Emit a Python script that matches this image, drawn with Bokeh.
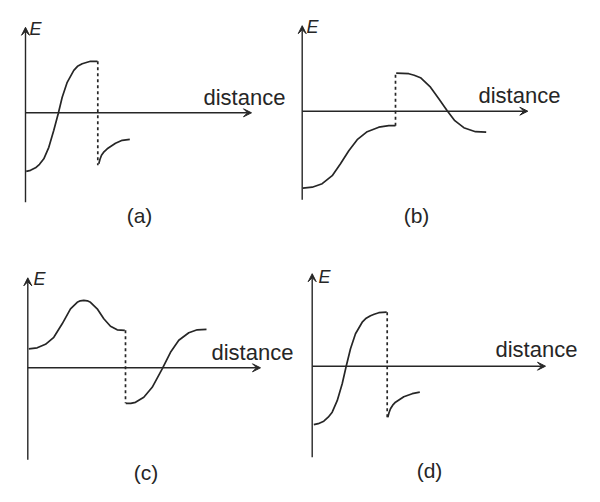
from bokeh.plotting import figure
from bokeh.models import Range1d, Arrow, VeeHead, Label
from bokeh.layouts import column, row
from bokeh.embed import file_html
from bokeh.resources import INLINE

# ---------------- data (distance, E) ----------------
panel_names = ["(a)", "(b)", "(c)", "(d)"]
x_label = "distance"
y_label = "E"

a_dist1 = [0.07, 0.5, 1.0, 1.4, 1.83, 2.33, 2.83, 3.27, 3.67, 4.17, 4.83, 5.2, 5.67, 6.0, 6.5, 7.2]
a_E1 = [-1.17, -1.15, -1.10, -1.03, -0.92, -0.69, -0.35, -0.02, 0.31, 0.61, 0.85, 0.93, 0.98, 1.0, 1.03, 1.03]
a_jump = [7.23, 1.03, -1.05]
a_dist2 = [7.33, 7.45, 7.6, 7.85, 8.17, 9.0, 9.67, 10.43]
a_E2 = [-1.02, -0.93, -0.85, -0.78, -0.72, -0.61, -0.55, -0.53]

b_dist1 = [0.06, 1.0, 2.0, 3.0, 3.83, 4.66, 5.5, 6.5, 7.66, 8.66, 9.33]
b_E1 = [-1.54, -1.52, -1.45, -1.29, -1.05, -0.79, -0.57, -0.41, -0.32, -0.29, -0.29]
b_jump = [9.33, -0.29, 0.76]
b_dist2 = [9.4, 10.66, 11.2, 11.83, 12.83, 13.66, 14.5, 15.26, 16.16, 17.33, 18.4]
b_E2 = [0.76, 0.75, 0.72, 0.67, 0.48, 0.25, 0.01, -0.19, -0.33, -0.41, -0.42]

c_dist1 = [0.1, 0.94, 1.77, 2.6, 3.44, 4.27, 4.94, 5.25, 5.6, 5.95, 6.27, 6.94, 7.6, 8.27, 8.94, 9.7]
c_E1 = [0.38, 0.40, 0.47, 0.61, 0.88, 1.18, 1.31, 1.34, 1.35, 1.34, 1.31, 1.18, 0.98, 0.83, 0.76, 0.75]
c_jump = [9.77, 0.75, -0.71]
c_dist2 = [9.8, 10.3, 10.77, 11.6, 12.44, 13.44, 14.27, 15.1, 16.1, 16.94, 17.87]
c_E2 = [-0.71, -0.71, -0.69, -0.59, -0.39, -0.02, 0.31, 0.55, 0.70, 0.76, 0.77]

d_dist1 = [0.16, 0.6, 1.16, 1.6, 2.0, 2.5, 3.0, 3.4, 3.83, 4.33, 5.0, 5.4, 5.83, 6.2, 6.66, 7.45]
d_E1 = [-1.17, -1.15, -1.10, -1.02, -0.92, -0.69, -0.35, 0.0, 0.35, 0.65, 0.88, 0.96, 1.01, 1.04, 1.07, 1.08]
d_jump = [7.5, 1.08, -1.05]
d_dist2 = [7.56, 7.68, 7.83, 8.05, 8.33, 9.16, 10.0, 10.76]
d_E2 = [-1.02, -0.93, -0.85, -0.78, -0.72, -0.61, -0.55, -0.52]

# axis extents: (E bottom, E top, distance end)
a_axes = [-1.79, 1.71, 22.6]
b_axes = [-1.77, 1.71, 22.56]
c_axes = [-1.84, 1.80, 23.27]
d_axes = [-1.82, 1.85, 23.33]

# ---------------- layout / style ----------------
PX_PER_D = 10.0   # pixels per distance unit
PX_PER_E = 50.0   # pixels per E unit
INK = "#262626"
FONT = "Liberation Sans"


def make_panel(W, H, ox, oy, d1, e1, jump, d2, e2, axes, name,
               e_pos, dist_pos, name_pos):
    p = figure(width=W, height=H, output_backend="svg", toolbar_location=None,
               x_axis_location=None, y_axis_location=None, title=None,
               min_border=0, outline_line_color=None,
               background_fill_color="white", border_fill_color="white",
               x_range=Range1d(-ox / PX_PER_D, (W - ox) / PX_PER_D),
               y_range=Range1d(-(H - oy) / PX_PER_E, oy / PX_PER_E))
    p.grid.visible = False

    # axes drawn as arrows
    p.add_layout(Arrow(x_start=0, y_start=axes[0], x_end=0, y_end=axes[1],
                       line_color=INK, line_width=1.4,
                       end=VeeHead(size=8, line_color=INK, fill_color=INK, line_width=1)))
    p.add_layout(Arrow(x_start=0, y_start=0, x_end=axes[2], y_end=0,
                       line_color=INK, line_width=1.4,
                       end=VeeHead(size=8, line_color=INK, fill_color=INK, line_width=1)))

    p.line(d1, e1, line_color=INK, line_width=1.7, line_join="round")
    p.line(d2, e2, line_color=INK, line_width=1.7, line_join="round")
    p.line([jump[0], jump[0]], [jump[1], jump[2]], line_color=INK,
           line_width=1.7, line_dash="3 3")

    p.add_layout(Label(x=e_pos[0], y=e_pos[1], text=y_label, text_font=FONT,
                       text_font_style="italic", text_font_size="18px",
                       text_color=INK, text_align="left",
                       text_baseline="middle"))
    p.add_layout(Label(x=dist_pos[0], y=dist_pos[1], text=x_label, text_font=FONT,
                       text_font_size="22px", text_color=INK, text_align="left",
                       text_baseline="middle"))
    p.add_layout(Label(x=name_pos[0], y=name_pos[1], text=name, text_font=FONT,
                       text_font_size="21px", text_color=INK, text_align="center",
                       text_baseline="middle"))
    return p


pa = make_panel(297, 250, 25.0, 112.3, a_dist1, a_E1, a_jump, a_dist2, a_E2, a_axes,
                panel_names[0], (0.4, 1.67), (17.8, 0.308), (11.4, -2.05))
pb = make_panel(303, 250, 4.7, 110.7, b_dist1, b_E1, b_jump, b_dist2, b_E2, b_axes,
                panel_names[1], (0.43, 1.68), (17.63, 0.306), (11.43, -2.08))
pc = make_panel(297, 252, 27.3, 117.3, c_dist1, c_E1, c_jump, c_dist2, c_E2, c_axes,
                panel_names[2], (0.57, 1.77), (18.37, 0.308), (11.82, -2.10))
pd = make_panel(303, 252, 14.7, 115.7, d_dist1, d_E1, d_jump, d_dist2, d_E2, d_axes,
                panel_names[3], (0.63, 1.78), (18.33, 0.326), (11.73, -2.08))

layout = column(row(pa, pb, spacing=0), row(pc, pd, spacing=0), spacing=0)

open("out.html", "w").write(file_html(layout, INLINE))
